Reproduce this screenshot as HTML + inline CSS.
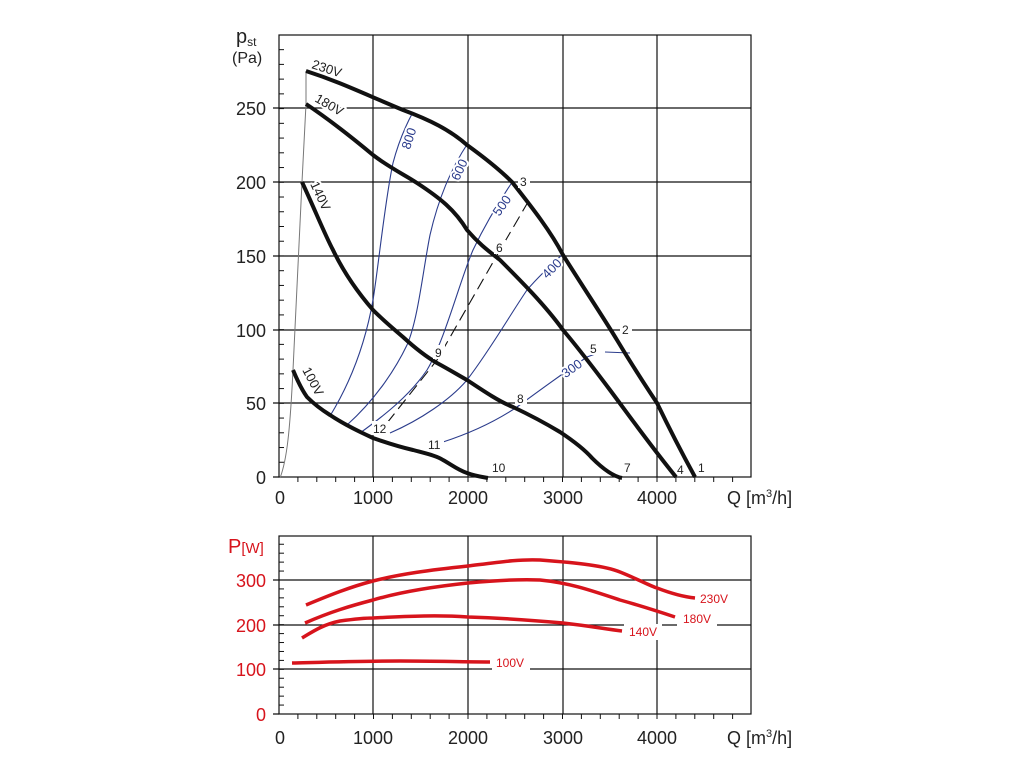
<!DOCTYPE html>
<html><head><meta charset="utf-8"><style>
html,body{margin:0;padding:0;background:#fff;}
svg{display:block;font-family:"Liberation Sans",sans-serif;}
.h{paint-order:stroke;stroke:#fff;stroke-width:4px;stroke-linejoin:round;}
</style></head><body>
<svg width="1024" height="768" viewBox="0 0 1024 768" xmlns="http://www.w3.org/2000/svg">
<rect width="1024" height="768" fill="#fff"/>
<g stroke="#111" stroke-width="1.2" fill="none">
<rect x="279" y="35" width="472" height="442"/>
<path d="M373 35V477M468 35V477M563 35V477M657 35V477"/>
<path d="M279 108H751M279 182H751M279 256H751M279 330H751M279 403H751"/>
<path d="M273 108H279M273 182H279M273 256H279M273 330H279M273 403H279M273 477H279"/>
</g>
<g stroke="#111" stroke-width="1" id="tt"></g>
<g fill="#222" font-size="18" text-anchor="end">
<text x="266" y="115">250</text><text x="266" y="189">200</text><text x="266" y="263">150</text>
<text x="266" y="337">100</text><text x="266" y="410">50</text><text x="266" y="484">0</text>
</g>
<g fill="#222" font-size="18" text-anchor="middle">
<text x="280" y="504">0</text><text x="373" y="504">1000</text><text x="468" y="504">2000</text>
<text x="563" y="504">3000</text><text x="657" y="504">4000</text>
</g>
<text x="727" y="504" font-size="18" fill="#222">Q [m<tspan font-size="11" dy="-7">3</tspan><tspan dy="7">/h]</tspan></text>
<text x="236" y="43" font-size="20" fill="#222">p<tspan font-size="12" dy="3">st</tspan></text>
<text x="232" y="63" font-size="16" fill="#222">(Pa)</text>
<path d="M280 478 C287 460 290 430 293 370 L302 182 L306 104 L306 71" stroke="#777" stroke-width="1" fill="none"/>
<g stroke="#2b3c8c" stroke-width="1.1" fill="none">
<path d="M330 416 C352 380 366 340 373 300 C378 270 385 200 393 163 C399 140 406 125 413 112"/>
<path d="M347 425 C375 400 395 370 407 345 C418 320 423 270 430 235 C438 200 450 170 468 143"/>
<path d="M360 433 C385 415 410 395 427 370 C445 340 460 280 473 250 C485 225 500 200 513 181"/>
<path d="M390 433 C420 420 450 400 467 380 C490 350 510 315 527 290 C540 275 553 263 563 254"/>
<path d="M443 442 C480 430 505 415 517 407 C540 390 565 372 587 357 L598 353 M605 352 L630 353"/>
</g>
<path d="M387 423 L437 360 L500 250 L528 202" stroke="#111" stroke-width="1.1" fill="none" stroke-dasharray="12,6"/>
<g stroke="#111" stroke-width="4" fill="none">
<path d="M306 71 C340 82 360 92 403 110 C430 120 450 130 467 145 C485 158 500 170 512 182 C530 205 550 230 563 255 C585 290 605 320 617 340 C635 370 645 385 657 403 C670 430 683 455 695 477"/>
<path d="M306 104 C330 120 355 140 373 155 C390 168 405 175 417 183 C440 198 455 210 467 230 C480 245 490 252 500 260 C520 280 545 305 563 330 C580 350 595 370 610 390 C625 410 650 445 676 477"/>
<path d="M302 182 C315 210 325 235 333 250 C345 275 360 295 373 310 C385 322 395 330 403 337 C415 348 425 356 437 363 C450 370 458 375 467 380 C485 392 500 402 513 407 C530 415 545 423 560 432 C575 442 585 450 592 458 C602 468 612 476 622 478"/>
<path d="M293 370 C298 382 302 390 307 397 C315 405 322 410 330 415 C345 425 360 432 373 438 C390 444 400 447 413 450 C428 454 437 456 443 460 C452 465 458 470 467 473 C475 476 482 477 488 478"/>
</g>
<g font-size="13" fill="#222">
<text class="h" x="311" y="68" transform="rotate(18 311 68)">230V</text>
<text class="h" x="314" y="101" transform="rotate(30 314 101)">180V</text>
<text class="h" x="310" y="184" transform="rotate(65 310 184)">140V</text>
<text class="h" x="302" y="370" transform="rotate(62 302 370)">100V</text>
</g>
<g font-size="13" fill="#2b3c8c">
<text class="h" x="398" y="150" transform="rotate(-72 404 142)">800</text>
<text class="h" x="449" y="180" transform="rotate(-65 455 173)">600</text>
<text class="h" x="491" y="215" transform="rotate(-55 497 208)">500</text>
<text class="h" x="541" y="276" transform="rotate(-45 548 270)">400</text>
<text class="h" x="560" y="375" transform="rotate(-35 568 368)">300</text>
</g>
<g font-size="12" fill="#222">
<rect x="518" y="174" width="12" height="14" fill="#fff"/><text x="520" y="186">3</text>
<rect x="620" y="322" width="12" height="14" fill="#fff"/><text x="622" y="334">2</text>
<rect x="589" y="341" width="12" height="14" fill="#fff"/><text x="590" y="353">5</text>
<rect x="494" y="240" width="12" height="14" fill="#fff"/><text x="496" y="252">6</text>
<rect x="433" y="345" width="12" height="14" fill="#fff"/><text x="435" y="357">9</text>
<rect x="515" y="391" width="12" height="14" fill="#fff"/><text x="517" y="403">8</text>
<rect x="372" y="421" width="17" height="14" fill="#fff"/><text x="373" y="433">12</text>
<rect x="427" y="437" width="17" height="14" fill="#fff"/><text x="428" y="449">11</text>
<text x="492" y="472">10</text>
<text x="624" y="472">7</text>
<text x="677" y="474">4</text>
<text x="698" y="472">1</text>
</g>
<g stroke="#111" stroke-width="1.2" fill="none">
<rect x="279" y="536" width="472" height="178"/>
<path d="M373 536V714M468 536V714M563 536V714M657 536V714"/>
<path d="M279 580H751M279 625H751M279 669H751"/>
<path d="M273 580H279M273 625H279M273 669H279M273 714H279"/>
</g>
<g stroke="#111" stroke-width="1" id="bt"></g>
<g fill="#d7141c" font-size="18" text-anchor="end">
<text x="266" y="587">300</text><text x="266" y="632">200</text><text x="266" y="676">100</text><text x="266" y="721">0</text>
</g>
<text x="228" y="553" font-size="20" fill="#d7141c">P<tspan font-size="15">[W]</tspan></text>
<g fill="#222" font-size="18" text-anchor="middle">
<text x="280" y="744">0</text><text x="373" y="744">1000</text><text x="468" y="744">2000</text>
<text x="563" y="744">3000</text><text x="657" y="744">4000</text>
</g>
<text x="727" y="744" font-size="18" fill="#222">Q [m<tspan font-size="11" dy="-7">3</tspan><tspan dy="7">/h]</tspan></text>
<g fill="#fff">
<rect x="695" y="590" width="40" height="16"/><rect x="677" y="611" width="40" height="16"/>
<rect x="624" y="624" width="38" height="16"/><rect x="492" y="655" width="38" height="16"/>
</g>
<g stroke="#d7141c" stroke-width="3.5" fill="none">
<path d="M306 605 C330 595 350 587 373 581 C400 574 430 570 468 566 C500 562 520 559 540 560 C580 563 605 566 620 572 C640 580 650 586 657 588 C670 593 685 597 695 598"/>
<path d="M305 623 C330 612 350 606 373 600 C400 592 430 587 468 583 C500 580 520 579 540 580 C570 583 590 590 620 600 C645 607 660 612 675 617"/>
<path d="M302 638 C315 630 325 624 340 621 C355 619 365 618 373 618 C410 616 440 615 468 617 C500 618 530 620 563 623 C590 626 605 629 622 631"/>
<path d="M292 663 C330 662 360 661 400 661 C440 661 460 662 490 662"/>
</g>
<g fill="#d7141c" font-size="12">
<text x="700" y="603">230V</text><text x="683" y="623">180V</text>
<text x="629" y="636">140V</text><text x="496" y="667">100V</text>
</g>
<script>
(function(){
 var ns="http://www.w3.org/2000/svg";
 function ln(g,x1,y1,x2,y2){var l=document.createElementNS(ns,"line");l.setAttribute("x1",x1);l.setAttribute("y1",y1);l.setAttribute("x2",x2);l.setAttribute("y2",y2);g.appendChild(l);}
 var tt=document.getElementById("tt"),bt=document.getElementById("bt");
 var px=94.5/1000;
 for(var q=200;q<5000;q+=200){var x=279+q*px; if(x>750)break; ln(tt,x,477,x,482); ln(bt,x,714,x,719);}
 for(var p=10;p<300;p+=10){var y=477-p*1.4736; if(y<36)break; ln(tt,279,y,284,y);}
 for(var w=20;w<400;w+=20){var y=714-w*0.4467; if(y<537)break; ln(bt,279,y,284,y);}
})();
</script>
</svg>
</body></html>
